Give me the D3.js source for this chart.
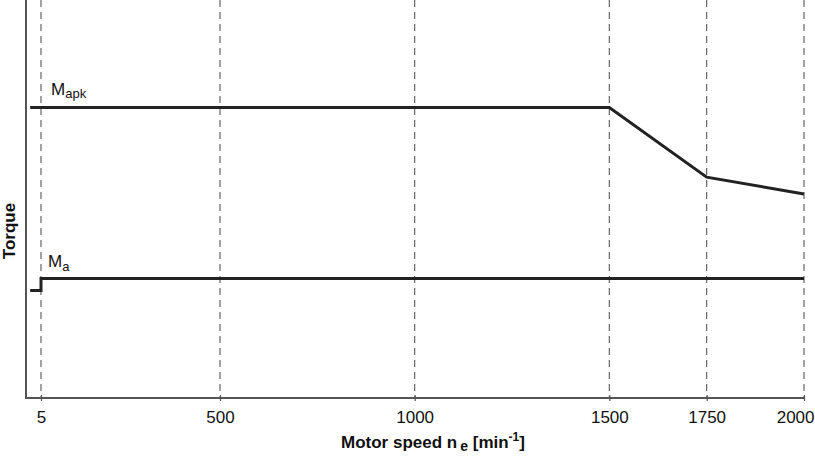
<!DOCTYPE html>
<html>
<head>
<meta charset="utf-8">
<script src="https://cdn.jsdelivr.net/npm/d3@7"></script>
<style>
  body { margin: 0; background: #fff; }
  text { font-family: "Liberation Sans", Arial, sans-serif; }
</style>
</head>
<body>
<svg width="815" height="457"></svg>
<script>
// speed ticks shown on the axis
const speedTicks = [5, 500, 1000, 1500, 1750, 2000];

// peak torque curve M_apk (speed, torque)
const mapkSpeed  = [-25, 1500, 1750, 2000];
const mapkTorque = [292, 292, 222, 205];

// nominal torque curve M_a (speed, torque)
const maSpeed  = [-25, 5, 5, 2000];
const maTorque = [108, 108, 120, 120];

const svg = d3.select('svg');

// the axis is schematic: 5 sits apart from the rest
const x = d3.scaleLinear()
  .domain([5, 500, 2000])
  .range([41, 220, 804]);

const y = d3.scaleLinear()
  .domain([0, 400])
  .range([398, 0]);

// dashed grid lines
svg.selectAll('.grid')
  .data(speedTicks)
  .enter()
  .append('line')
  .attr('x1', d => x(d)).attr('x2', d => x(d))
  .attr('y1', 0).attr('y2', 398)
  .attr('stroke', '#666')
  .attr('stroke-width', 1.2)
  .attr('stroke-dasharray', '7,5');

// axis lines
svg.append('line')
  .attr('x1', 26).attr('x2', 26).attr('y1', 0).attr('y2', 399)
  .attr('stroke', '#555').attr('stroke-width', 2);
svg.append('line')
  .attr('x1', 25).attr('x2', x(2000)).attr('y1', 398).attr('y2', 398)
  .attr('stroke', '#555').attr('stroke-width', 2);

const xAxis = svg.append('g')
  .attr('transform', 'translate(0,395)')
  .call(d3.axisBottom(x).tickValues(speedTicks).tickSize(6).tickPadding(10).tickFormat(d => d));
xAxis.select('.domain').remove();
xAxis.selectAll('line').attr('stroke', '#555').attr('stroke-width', 1.2);
xAxis.selectAll('text')
  .attr('font-size', 17)
  .attr('fill', '#111')
  .style('font-family', '"Liberation Sans", Arial, sans-serif');
// last label sits against the right edge
xAxis.selectAll('text').filter(d => d === 2000).attr('text-anchor', 'end').attr('x', 10);

// curves
const line = d3.line().x(d => x(d[0])).y(d => y(d[1]));

svg.append('path')
  .datum(mapkSpeed.map((s, i) => [s, mapkTorque[i]]))
  .attr('d', line)
  .attr('fill', 'none')
  .attr('stroke', '#222')
  .attr('stroke-width', 3);

svg.append('path')
  .datum(maSpeed.map((s, i) => [s, maTorque[i]]))
  .attr('d', line)
  .attr('fill', 'none')
  .attr('stroke', '#222')
  .attr('stroke-width', 3);

// curve labels
const l1 = svg.append('text').attr('x', 51).attr('y', 95).attr('font-size', 17).attr('fill', '#111');
l1.append('tspan').text('M');
l1.append('tspan').attr('font-size', 13).attr('dy', 3).text('apk');

const l2 = svg.append('text').attr('x', 48).attr('y', 267).attr('font-size', 17).attr('fill', '#111');
l2.append('tspan').text('M');
l2.append('tspan').attr('font-size', 13).attr('dy', 4).text('a');

// axis titles
const xt = svg.append('text')
  .attr('x', 433).attr('y', 448)
  .attr('text-anchor', 'middle')
  .attr('font-size', 17)
  .attr('font-weight', 'bold')
  .attr('fill', '#111');
xt.append('tspan').text('Motor speed n');
xt.append('tspan').attr('font-size', 14).attr('dy', 3).attr('dx', 3).text('e');
xt.append('tspan').attr('dy', -3).text(' [min');
xt.append('tspan').attr('font-size', 12).attr('dy', -7).text('-1');
xt.append('tspan').attr('dy', 7).text(']');

svg.append('text')
  .attr('transform', 'translate(15,231) rotate(-90)')
  .attr('text-anchor', 'middle')
  .attr('font-size', 17)
  .attr('font-weight', 'bold')
  .attr('fill', '#111')
  .text('Torque');
</script>
</body>
</html>
